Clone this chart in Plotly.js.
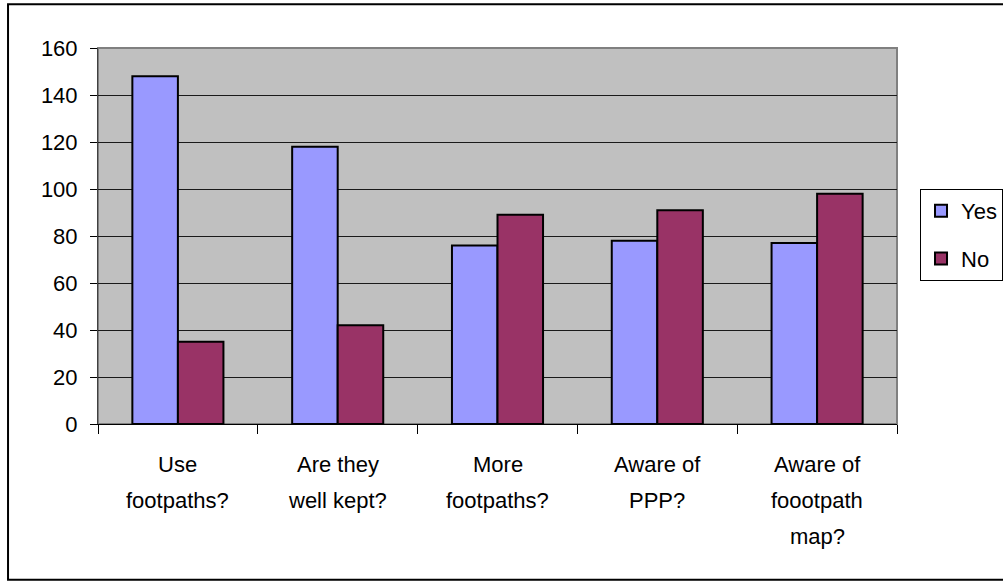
<!DOCTYPE html>
<html>
<head>
<meta charset="utf-8">
<script src="https://cdn.plot.ly/plotly-3.0.1.min.js"></script>
<style>
html,body{margin:0;padding:0;background:#fff;}
#chart{width:1003px;height:582px;}
</style>
</head>
<body>
<div id="chart"></div>
<script>
const categories = ["Use<br>footpaths?", "Are they<br>well kept?", "More<br>footpaths?", "Aware of<br>PPP?", "Aware of<br>foootpath<br>map?"];
const yesValues = [148, 118, 76, 78, 77];
const noValues = [35, 42, 89, 91, 98];
const seriesNames = ["Yes", "No"];
const yTickVals = [0, 20, 40, 60, 80, 100, 120, 140, 160];

const FONT = "Liberation Sans, Arial, sans-serif";

const traces = [
  {type: "bar", name: seriesNames[0], x: categories, y: yesValues, legendgroup: "a",
   marker: {color: "#9999FF", line: {color: "#000000", width: 2}}, hoverinfo: "x+y"},
  {type: "bar", name: seriesNames[1], x: categories, y: noValues, legendgroup: "b",
   marker: {color: "#993366", line: {color: "#000000", width: 2}}, hoverinfo: "x+y"}
];

const annotations = [];
categories.forEach(function(cat, i) {
  cat.split("<br>").forEach(function(line, j) {
    annotations.push({
      x: cat, xref: "x", y: 0, yref: "paper",
      text: line, showarrow: false,
      xanchor: "center", yanchor: "middle",
      yshift: -40 - 36 * j,
      font: {family: FONT, size: 22, color: "#000"}
    });
  });
});

const layout = {
  width: 1003, height: 582,
  margin: {l: 98, r: 106, t: 48, b: 158, autoexpand: false},
  paper_bgcolor: "#ffffff",
  plot_bgcolor: "#C0C0C0",
  font: {family: FONT, size: 22, color: "#000"},
  barmode: "group",
  bargap: 0.43,
  bargroupgap: 0,
  showlegend: true,
  legend: {
    x: 1.0288, xanchor: "left", y: 0.625, yanchor: "top",
    bordercolor: "#000", borderwidth: 1, bgcolor: "#fff",
    font: {family: FONT, size: 22, color: "#000"},
    traceorder: "grouped", tracegroupgap: 16, itemwidth: 30
  },
  xaxis: {
    type: "category",
    showticklabels: false,
    ticks: "outside", tickson: "boundaries", ticklen: 9, tickcolor: "#000", tickwidth: 1,
    showline: true, linecolor: "#000", linewidth: 1,
    showgrid: false, zeroline: false, fixedrange: true
  },
  yaxis: {
    range: [0, 160], tickvals: yTickVals,
    ticks: "outside", ticklen: 7, tickcolor: "#000", tickwidth: 1,
    ticklabelstandoff: 8,
    tickfont: {family: FONT, size: 22, color: "#000"},
    showline: true, linecolor: "#404040", linewidth: 1,
    showgrid: true, gridcolor: "#1a1a1a", gridwidth: 1,
    zeroline: false, fixedrange: true
  },
  shapes: [
    {type: "rect", xref: "paper", yref: "paper", x0: 0, x1: 1, y0: 0, y1: 1,
     line: {color: "#808080", width: 2}, layer: "below"},
    {type: "rect", xref: "paper", yref: "paper", x0: -0.1126, x1: 1.2, y0: -0.4145, y1: 1.1165,
     line: {color: "#000", width: 2}, fillcolor: "rgba(0,0,0,0)", layer: "below"}
  ],
  annotations: annotations
};

Plotly.newPlot("chart", traces, layout, {displayModeBar: false, staticPlot: true});
</script>
</body>
</html>
